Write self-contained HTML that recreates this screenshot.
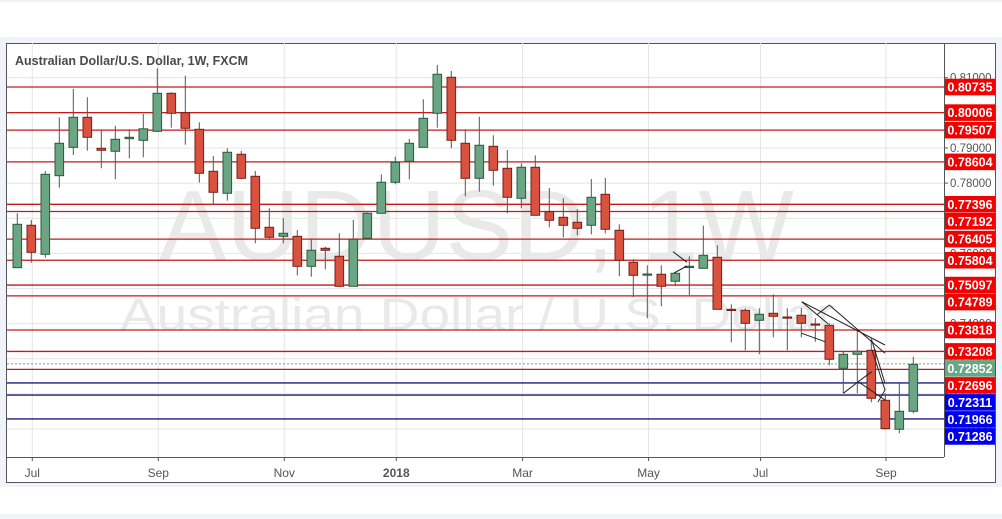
<!DOCTYPE html>
<html><head><meta charset="utf-8"><style>
html,body{margin:0;padding:0;background:#f0f3fa;}
svg{display:block;font-family:"Liberation Sans",sans-serif;}
</style></head><body>
<svg id="chart" width="1002" height="519" viewBox="0 0 1002 519">
<rect x="0" y="0" width="1002" height="519" fill="#f0f3fa"/>
<rect x="0" y="2" width="1002" height="35" fill="#ffffff"/>
<rect x="0" y="487" width="1002" height="27" fill="#ffffff"/>
<rect x="6.5" y="43.5" width="989" height="439" fill="#ffffff" stroke="#555" stroke-width="1"/>
<g id="grid"></g>
<g fill="#e9e9e9">
<text x="159" y="260" font-size="100" textLength="635" lengthAdjust="spacingAndGlyphs">AUDUSD, 1W</text>
<text x="120" y="330" font-size="45" textLength="715" lengthAdjust="spacingAndGlyphs">Australian Dollar / U.S. Dollar</text>
</g>
<g id="levels"></g>
<g id="candles"></g>
<g stroke="#222" stroke-width="1" fill="none">
<polyline points="673,251.7 687,262.3"/>
<polyline points="674,273 687,266"/>
<polyline points="801.7,301.7 885,345"/>
<polyline points="829.3,305 885,353.3"/>
<polyline points="801.7,301.7 828.3,324"/>
<polyline points="801.7,333.3 825,341.7"/>
<polyline points="816.7,315 829.3,305"/>
<polyline points="843.3,393.3 858.3,381.7 885,400"/>
<polyline points="858.3,381.7 871.7,371.7"/>
<polyline points="871.7,340 885,383.3"/>
<polyline points="872,350 885,390 878,402"/>
</g>
<line x1="944.5" y1="43" x2="944.5" y2="457" stroke="#555"/>
<line x1="7" y1="457.5" x2="944" y2="457.5" stroke="#555"/>
<g id="xaxis"></g>
<g id="yaxis"></g>
<text x="15" y="65" font-size="13" font-weight="bold" fill="#4a4a4a" textLength="233" lengthAdjust="spacingAndGlyphs">Australian Dollar/U.S. Dollar, 1W, FXCM</text>
</svg>
<script>
// OHLC weekly data
const opens  = [.75592,.76799,.75973,.78211,.79019,.79873,.78990,.78905,.79264,.79218,.79474,.80556,.80004,.79531,.78336,.77710,.78820,.78193,.76742,.76485,.76485,.75631,.76144,.75916,.75062,.76429,.77140,.78023,.78620,.79019,.79987,.81012,.79133,.78136,.79047,.78421,.77567,.78450,.77186,.77026,.76884,.76799,.77681,.76656,.75745,.75389,.75404,.75205,.75603,.75574,.75888,.74407,.74379,.74094,.74294,.74188,.74237,.73989,.73952,.72728,.73126,.73240,.71817,.70992,.71504];
const highs  = [.77140,.76949,.78344,.79873,.80679,.80442,.79491,.79632,.79531,.79967,.81268,.80585,.81057,.79731,.78771,.78991,.78914,.78344,.77283,.76998,.76665,.76400,.76189,.76571,.76949,.77169,.78250,.78751,.79255,.80385,.81362,.81191,.79531,.79890,.79361,.78942,.78563,.78790,.77860,.77567,.77254,.78117,.78145,.76827,.75831,.75660,.75660,.75461,.75916,.76790,.76229,.74550,.74436,.74436,.74834,.74436,.74444,.74151,.74009,.73212,.73798,.73582,.72016,.72301,.73058];
const lows   = [.75592,.75734,.75876,.77869,.78800,.78922,.78421,.78108,.78706,.78734,.79455,.79577,.79093,.78011,.77376,.77499,.78108,.76286,.76409,.76286,.75375,.75335,.75546,.75034,.75062,.76400,.77140,.77966,.78108,.79019,.79577,.78990,.77624,.77755,.77926,.77140,.77283,.77083,.76742,.76457,.76514,.76542,.76571,.75347,.74749,.74151,.74493,.75062,.74806,.75574,.74407,.73468,.73240,.73126,.73610,.73240,.73610,.73485,.72813,.72016,.72016,.71760,.70980,.70878,.71447];
const closes = [.76827,.76030,.78250,.79133,.79873,.79304,.78934,.79247,.79304,.79545,.80556,.79987,.79560,.78279,.77738,.78877,.78136,.76713,.76457,.76571,.75631,.76087,.76087,.75062,.76400,.77140,.78023,.78592,.79133,.79844,.81097,.79218,.78136,.79076,.78364,.77596,.78450,.77083,.76941,.76799,.76713,.77596,.76685,.75802,.75375,.75412,.75062,.75432,.75631,.75945,.74407,.74379,.74009,.74265,.74208,.74166,.74009,.73966,.72984,.73126,.73212,.71874,.71009,.71504,.72842];
// horizontal levels
const redLevels  = [.80735,.80006,.79507,.78604,.77396,.77192,.76405,.75804,.75097,.74789,.73818,.73208,.72696];
const blueLevels = [.72311,.71966,.71286];
const lastPrice = .72852;
// axis ticks
const priceTicks = [.81,.80,.79,.78,.77,.76,.75,.74,.73,.72,.71];
const priceTickLabels = ["0.81000","0.80000","0.79000","0.78000","0.77000","0.76000","0.75000","0.74000","0.73000","0.72000","0.71000"];
const timeTickIdx = [1.07,10.07,19.07,27.07,36.09,45.09,53.09,62.05];
const timeTickLabels = ["Jul","Sep","Nov","2018","Mar","May","Jul","Sep"];

const NS="http://www.w3.org/2000/svg";
function y(p){return 87+(0.80735-p)*3513;}
function x(i){return 17.3+i*14;}
function mk(tag,attrs,parent){const e=document.createElementNS(NS,tag);for(const k in attrs)e.setAttribute(k,attrs[k]);parent.appendChild(e);return e;}

const grid=document.getElementById('grid');
priceTicks.forEach(p=>{const l=mk('line',{x1:7,x2:944,y1:y(p),y2:y(p),stroke:'#e4e4e4'},grid);

});
timeTickIdx.forEach(t=>{const l=mk('line',{x1:x(t),x2:x(t),y1:43,y2:457,stroke:'#e4e4e4'},grid);

});

const lv=document.getElementById('levels');
redLevels.forEach(p=>{const l=mk('line',{x1:7,x2:944,y1:y(p),y2:y(p),stroke:'#c41a1a','stroke-width':1.3},lv);

});
blueLevels.forEach(p=>{const l=mk('line',{x1:7,x2:944,y1:y(p),y2:y(p),stroke:'#1a1a8a','stroke-width':1.3},lv);

});
const ll=mk('line',{x1:7,x2:944,y1:y(lastPrice),y2:y(lastPrice),stroke:'#6aa584','stroke-dasharray':'2,2'},lv);



const cg=document.getElementById('candles');
for(let i=0;i<opens.length;i++){
  const up=closes[i]>=opens[i];
  const g=mk('g',{},cg);
  
  
  const w=mk('line',{x1:x(i),x2:x(i),y1:y(highs[i]),y2:y(lows[i]),stroke:'#555','stroke-width':1},g);
  
  
  const top=y(Math.max(opens[i],closes[i])),bot=y(Math.min(opens[i],closes[i]));
  const b=mk('rect',{x:x(i)-4.3,y:top,width:8.6,height:Math.max(bot-top,1.2),fill:up?'#6aa584':'#d9523f',stroke:up?'#2b5a3c':'#7a1f16','stroke-width':1},g);
  
  
}

const xa=document.getElementById('xaxis');
timeTickIdx.forEach((t,k)=>{
  const tk=mk('line',{x1:x(t),x2:x(t),y1:457,y2:461,stroke:'#555'},xa);
  
  
  const tx=mk('text',{x:x(t),y:477,'text-anchor':'middle','font-size':12,fill:'#555','font-weight':timeTickLabels[k]==='2018'?'bold':'normal'},xa);
  tx.textContent=timeTickLabels[k];
  
  
});

const ya=document.getElementById('yaxis');
priceTicks.forEach((p,k)=>{
  const tk=mk('line',{x1:944,x2:948,y1:y(p),y2:y(p),stroke:'#555'},ya);
  
  
  const tx=mk('text',{x:950,y:y(p)+4,'font-size':11.5,fill:'#555'},ya);
  tx.textContent=priceTickLabels[k];
  
  
});
// labels with collision avoidance (top-down)
const allLabels=[];
redLevels.forEach(p=>allLabels.push({p:p,c:'#f40000',n:'resistance-label'}));
blueLevels.forEach(p=>allLabels.push({p:p,c:'#0000f0',n:'support-label'}));
allLabels.push({p:lastPrice,c:'#6aa584',n:'last-price-label'});
allLabels.sort((a,b)=>b.p-a.p);
let prev=-100;
allLabels.forEach(L=>{
  const cy=Math.max(y(L.p),prev+17);prev=cy;
  const r=mk('rect',{x:945,y:cy-8.3,width:50,height:16.6,fill:L.c},ya);
  
  
  const t=mk('text',{x:970,y:cy+4.6,'text-anchor':'middle','font-size':12.5,'font-weight':'bold',fill:'#fff'},ya);
  t.textContent=L.p.toFixed(5);
  
  
});
</script>
</body></html>
